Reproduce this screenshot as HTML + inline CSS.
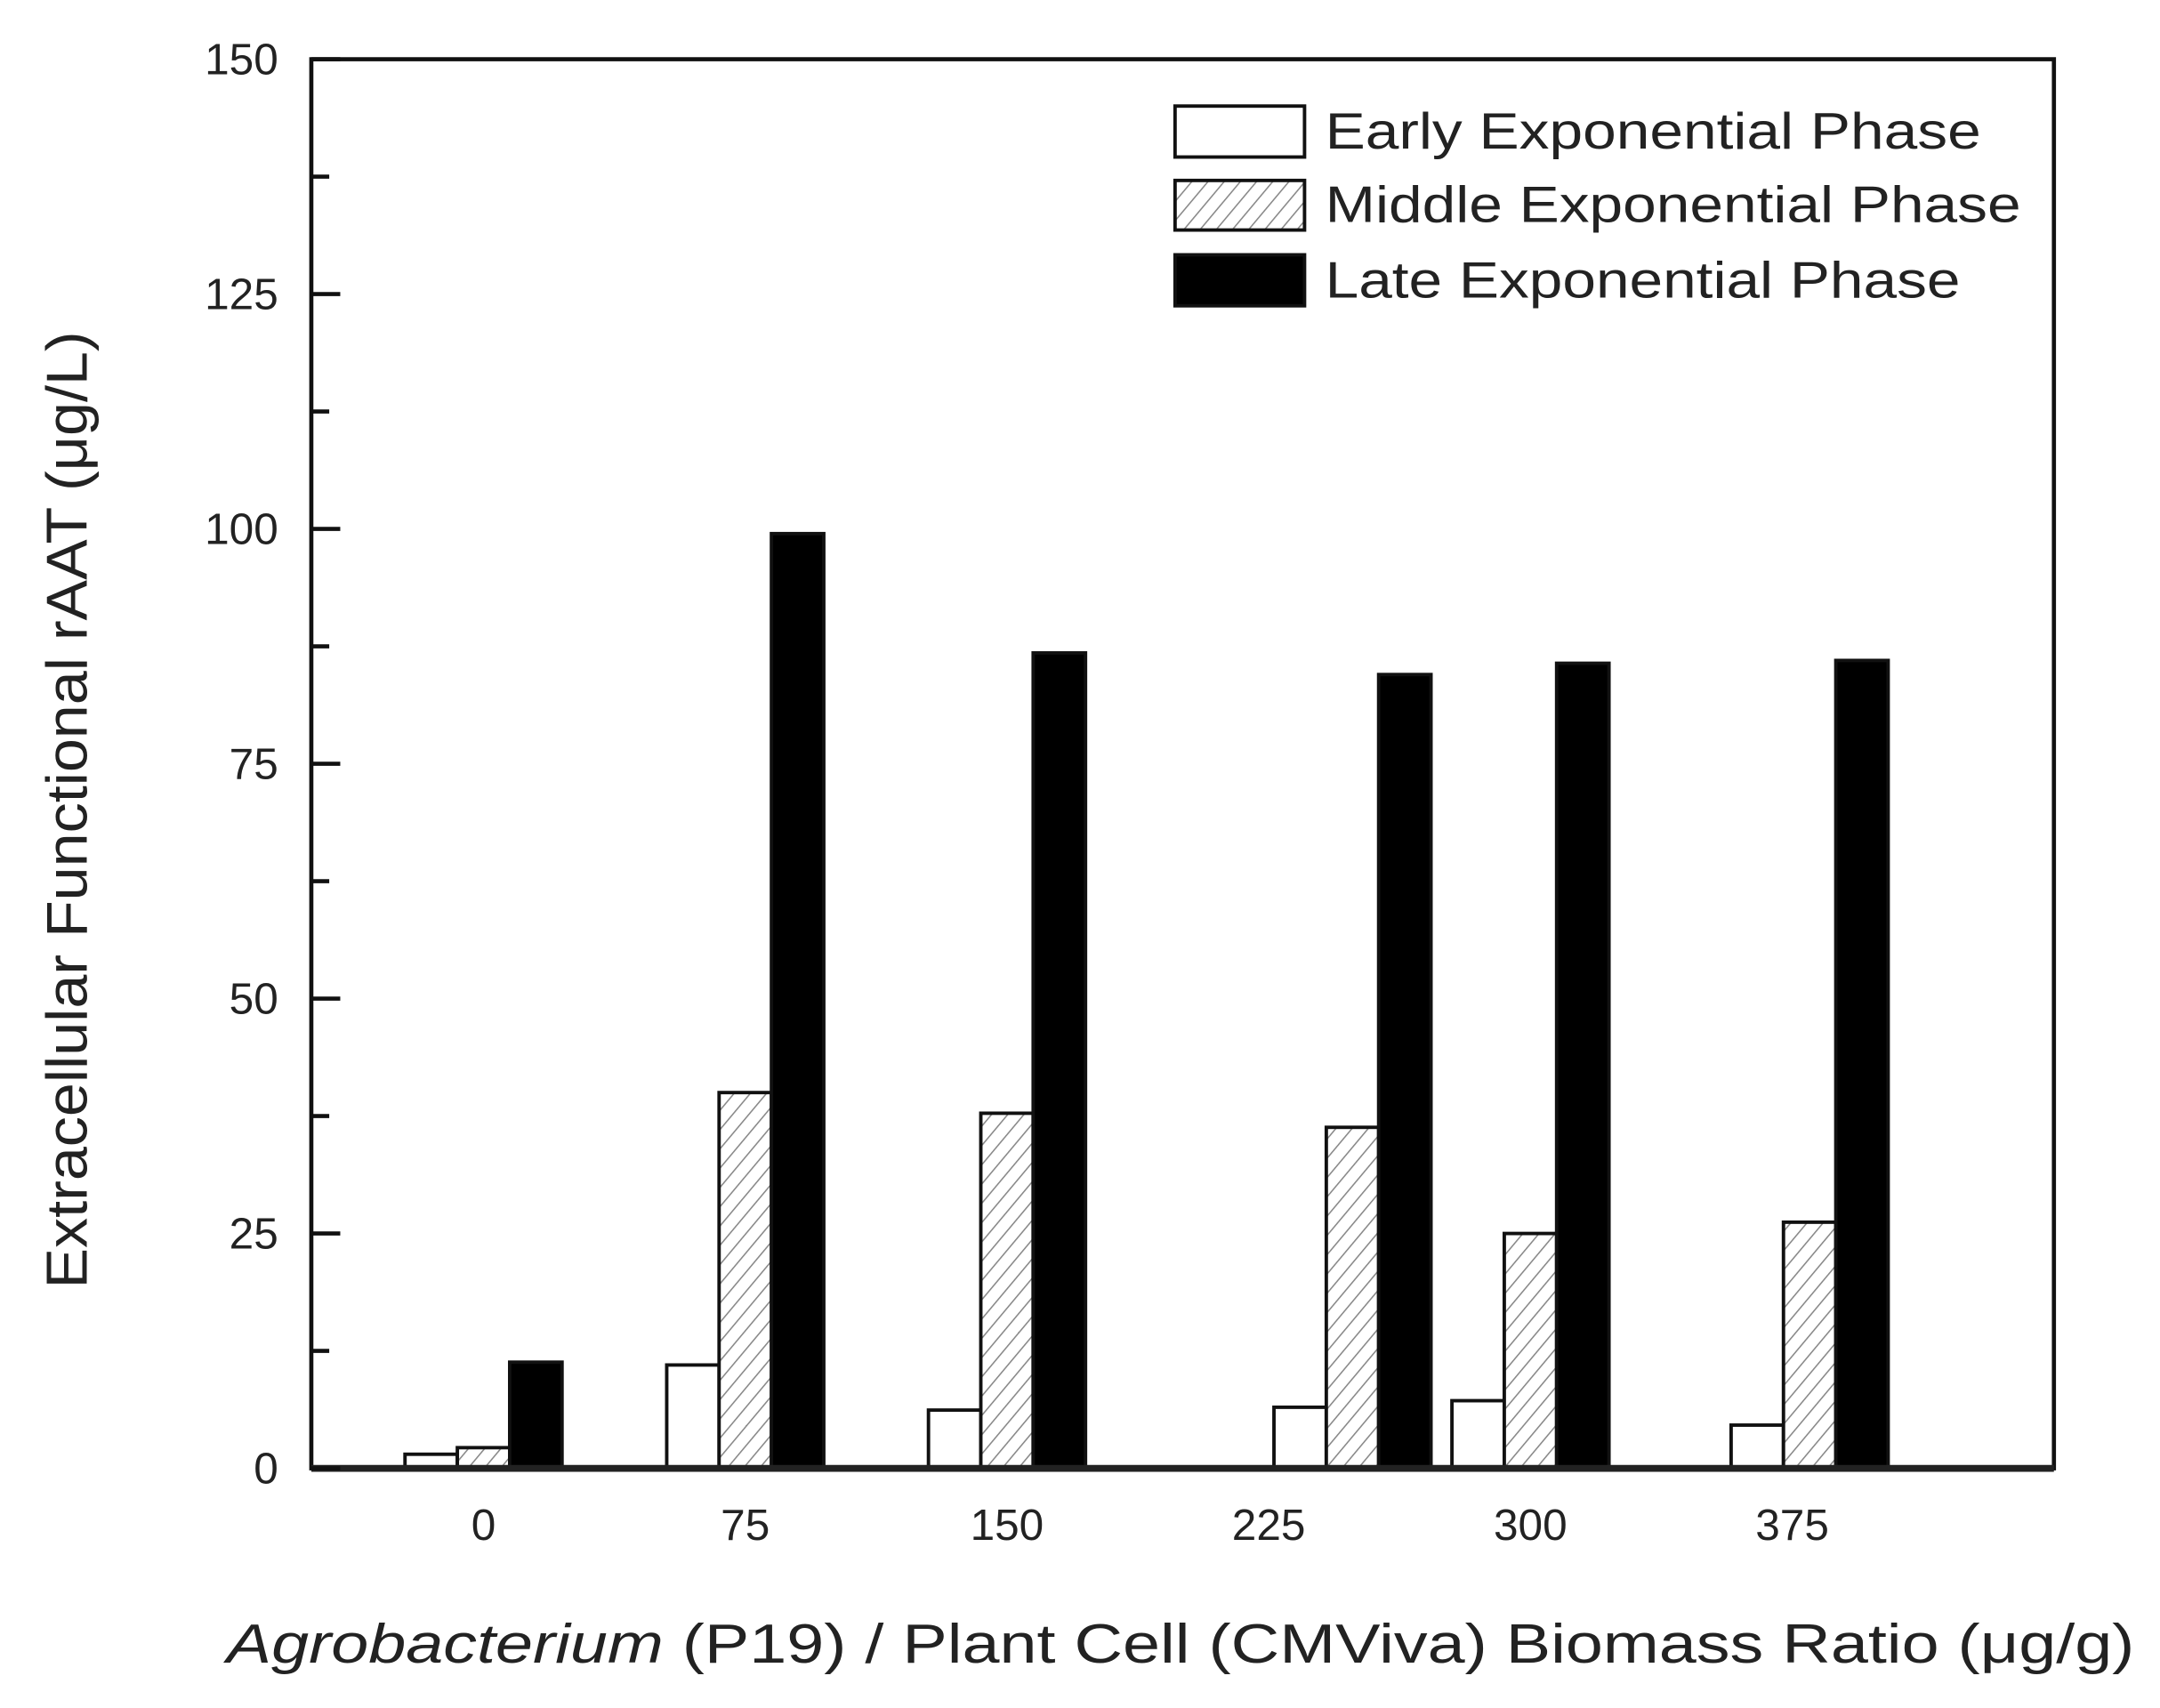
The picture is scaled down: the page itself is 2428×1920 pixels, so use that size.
<!DOCTYPE html>
<html><head><meta charset="utf-8"><style>
html,body{margin:0;padding:0;background:#fff}
svg{display:block}
text{font-family:"Liberation Sans",sans-serif;fill:#222}
</style></head><body>
<svg id="chart" width="2428" height="1920" viewBox="0 0 1568 1240" preserveAspectRatio="none" xmlns="http://www.w3.org/2000/svg">
<defs>
<pattern id="hatch" patternUnits="userSpaceOnUse" width="9" height="9" patternTransform="rotate(40)">
<rect width="9" height="9" fill="#fff"/>
<line x1="0" y1="0" x2="0" y2="9" stroke="#888" stroke-width="2"/>
</pattern>
</defs>
<g id="bars"></g>
<g id="axes"></g>
<g>
<rect x="853" y="77" width="94" height="37" fill="#fff" stroke="#111" stroke-width="2.5"/>
<text x="962" y="108" font-size="37" textLength="476" lengthAdjust="spacingAndGlyphs">Early Exponential Phase</text>
<rect x="853" y="131" width="94" height="36" fill="url(#hatch)" stroke="#111" stroke-width="2.5"/>
<text x="962" y="161" font-size="37" textLength="505" lengthAdjust="spacingAndGlyphs">Middle Exponential Phase</text>
<rect x="853" y="185" width="94" height="37" fill="#000" stroke="#111" stroke-width="2.5"/>
<text x="962" y="216" font-size="37" textLength="461" lengthAdjust="spacingAndGlyphs">Late Exponential Phase</text>
</g>
<text transform="translate(63,588) rotate(-90)" text-anchor="middle" font-size="42" textLength="695" lengthAdjust="spacingAndGlyphs">Extracellular Functional rAAT (μg/L)</text>
<text x="857" y="1207" text-anchor="middle" font-size="40" textLength="1385" lengthAdjust="spacingAndGlyphs"><tspan font-style="italic">Agrobacterium</tspan> (P19) / Plant Cell (CMViva) Biomass Ratio (μg/g)</text>
</svg>
<script>
const groupPositions = [0, 75, 150, 249, 300, 380];
const earlyValues = [1.5, 11, 6.2, 6.5, 7.2, 4.6];
const middleValues = [2.2, 40, 37.8, 36.3, 25, 26.2];
const lateValues = [11.3, 99.5, 86.8, 84.5, 85.7, 86];
const xTickValues = [0, 75, 150, 225, 300, 375];
const xTickLabels = ["0", "75", "150", "225", "300", "375"];
const yTickValues = [0, 25, 50, 75, 100, 125, 150];

const L = 226, R = 1491, T = 43, B = 1066;
const xs = v => 351 + v * (190 / 75);
const ys = v => B - (v / 150) * (B - T);
const NS = "http://www.w3.org/2000/svg";
const bars = document.getElementById('bars');
const axes = document.getElementById('axes');
const bw = 38;
function mk(tag, attrs, parent) {
  const e = document.createElementNS(NS, tag);
  for (const k in attrs) e.setAttribute(k, attrs[k]);
  parent.appendChild(e);
  return e;
}
const series = [
  {vals: earlyValues, off: -bw, fill: '#fff', name: 'early'},
  {vals: middleValues, off: 0, fill: 'url(#hatch)', name: 'middle'},
  {vals: lateValues, off: bw, fill: '#000', name: 'late'}
];
series.forEach(s => {
  s.vals.forEach((v, i) => {
    const cx = xs(groupPositions[i]) + s.off;
    const r = mk('rect', {x: cx - bw / 2, y: ys(v), width: bw, height: B - ys(v), fill: s.fill, stroke: '#111', 'stroke-width': 2.5}, bars);
    
    
  });
});
const frame = mk('rect', {x: L, y: T, width: R - L, height: B - T, fill: 'none', stroke: '#111', 'stroke-width': 3}, axes);


const xl = mk('line', {x1: L, y1: B, x2: R, y2: B, stroke: '#222', 'stroke-width': 5}, axes);


yTickValues.forEach(v => {
  const y = ys(v);
  const t = mk('line', {x1: L, y1: y, x2: L + 21, y2: y, stroke: '#111', 'stroke-width': 3}, axes);
  
  
  const lb = mk('text', {x: 202, y: y + 11, 'text-anchor': 'end', 'font-size': 32}, axes);
  lb.textContent = String(v);
  
  
  if (v < 150) {
    const m = ys(v + 12.5);
    const mt = mk('line', {x1: L, y1: m, x2: L + 13, y2: m, stroke: '#111', 'stroke-width': 3}, axes);
    
    
  }
});
xTickValues.forEach((v, i) => {
  const lb = mk('text', {x: xs(v), y: 1118, 'text-anchor': 'middle', 'font-size': 32}, axes);
  lb.textContent = xTickLabels[i];
  
  
});
</script>
</body></html>
